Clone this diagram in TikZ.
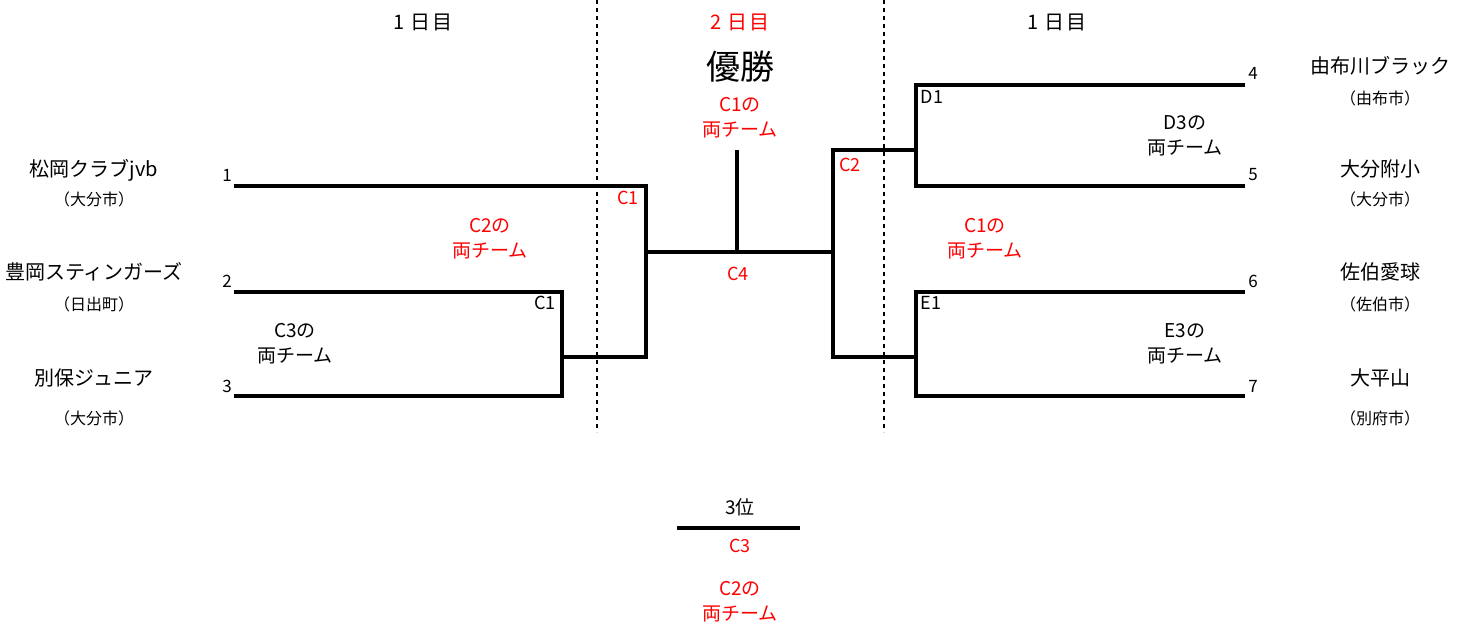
\documentclass[tikz,border=0pt]{standalone}
\usepackage{fontspec}
\setmainfont{Noto Sans CJK JP}
\begin{document}
\begin{tikzpicture}[x=1pt,y=-1pt,
  br/.style={line width=3.2pt},
  sep/.style={line width=2pt, dash pattern=on 4pt off 4pt},
  team/.style={font=\fontsize{20}{24}\selectfont, inner sep=0pt},
  town/.style={font=\fontsize{16}{18}\selectfont, inner sep=0pt},
  num/.style={font=\fontsize{17}{18}\selectfont, inner sep=0pt},
  lab/.style={font=\fontsize{19}{25}\selectfont, align=center, inner sep=0pt},
  code/.style={font=\fontsize{18}{18}\selectfont, inner sep=0pt},
  day/.style={font=\fontsize{20}{24}\selectfont, inner sep=0pt},
  rd/.style={text=red}]
\useasboundingbox (0,0) rectangle (1484,625);
% coordinates
\coordinate (t1) at (234,186);
\coordinate (t2) at (234,292);
\coordinate (t3) at (234,396);
\coordinate (a2) at (562,292);
\coordinate (a3) at (562,396);
\coordinate (am) at (562,357);
\coordinate (bm) at (646,357);
\coordinate (bc) at (646,252);
\coordinate (c4) at (737,252);
\coordinate (top) at (737,150);
\coordinate (dc) at (833,252);
\coordinate (d1) at (833,150);
\coordinate (d2) at (833,357);
\coordinate (e1) at (916,150);
\coordinate (e2) at (916,357);
\coordinate (f4) at (916,85);
\coordinate (g4) at (1245,85);
\coordinate (f5) at (916,186);
\coordinate (g5) at (1245,186);
\coordinate (f6) at (916,292);
\coordinate (g6) at (1245,292);
\coordinate (f7) at (916,396);
\coordinate (g7) at (1245,396);
\coordinate (s1a) at (597,0);
\coordinate (s1b) at (597,432);
\coordinate (s2a) at (884,0);
\coordinate (s2b) at (884,432);
\coordinate (p3a) at (677,528);
\coordinate (p3b) at (800,528);
% separators
\draw[sep] (s1a) -- (s1b);
\draw[sep] (s2a) -- (s2b);
% bracket
\draw[br] (t1) -| (bm) -- (am);
\draw[br] (t2) -- (a2) -- (a3) -- (t3);
\draw[br] (bc) -- (dc);
\draw[br] (c4) -- (top);
\draw[br] (e1) -- (d1) -- (d2) -- (e2);
\draw[br] (g4) -- (f4) -- (f5) -- (g5);
\draw[br] (g6) -- (f6) -- (f7) -- (g7);
\draw[br] (p3a) -- (p3b);
% headings
\node[day] (h1) at (423,22) {1\hspace{6pt}日\hspace{2pt}目};
\node[day, rd] (h2) at (740,22) {2\hspace{6pt}日\hspace{2pt}目};
\node[day] (h3) at (1057,22) {1\hspace{6pt}日\hspace{2pt}目};
\node[font=\fontsize{34}{40}\selectfont, inner sep=0pt] (win) at (740,67) {優勝};
\node[lab, rd] (wl) at (740,118) {C1の\\両チーム};
% left teams
\node[team] (n1) at (94,170) {松岡クラブjvb};
\node[town] (w1) at (94,199) {（大分市）};
\node[team] (n2) at (94,272) {豊岡スティンガーズ};
\node[town] (w2) at (94,304) {（日出町）};
\node[team] (n3) at (94,378) {別保ジュニア};
\node[town] (w3) at (94,418) {（大分市）};
% right teams
\node[team] (n4) at (1380,66) {由布川ブラック};
\node[town] (w4) at (1380,98) {（由布市）};
\node[team] (n5) at (1380,169) {大分附小};
\node[town] (w5) at (1380,199) {（大分市）};
\node[team] (n6) at (1380,272) {佐伯愛球};
\node[town] (w6) at (1380,304) {（佐伯市）};
\node[team] (n7) at (1380,378) {大平山};
\node[town] (w7) at (1380,418) {（別府市）};
% numbers
\node[num] (k1) at (227,175) {1};
\node[num] (k2) at (227,281) {2};
\node[num] (k3) at (227,386) {3};
\node[num] (k4) at (1253,73) {4};
\node[num] (k5) at (1253,175) {5};
\node[num] (k6) at (1253,281) {6};
\node[num] (k7) at (1253,386) {7};
% match labels
\node[code, rd] (m1) at (628,198) {C1};
\node[lab, rd] (l1) at (490,239) {C2の\\両チーム};
\node[code] (m2) at (545,303) {C1};
\node[lab] (l2) at (295,344) {C3の\\両チーム};
\node[code, rd] (m3) at (738,274) {C4};
\node[code, rd] (m4) at (850,165) {C2};
\node[code] (m5) at (932,97) {D1};
\node[lab] (l3) at (1185,136) {D3の\\両チーム};
\node[lab, rd] (l4) at (985,239) {C1の\\両チーム};
\node[code] (m6) at (931,303) {E1};
\node[lab] (l5) at (1185,344) {E3の\\両チーム};
% third place
\node[day, font=\fontsize{19}{24}\selectfont] (th) at (740,507) {3位};
\node[code, rd] (m7) at (740,546) {C3};
\node[lab, rd] (l6) at (740,602) {C2の\\両チーム};
\end{tikzpicture}
\end{document}
